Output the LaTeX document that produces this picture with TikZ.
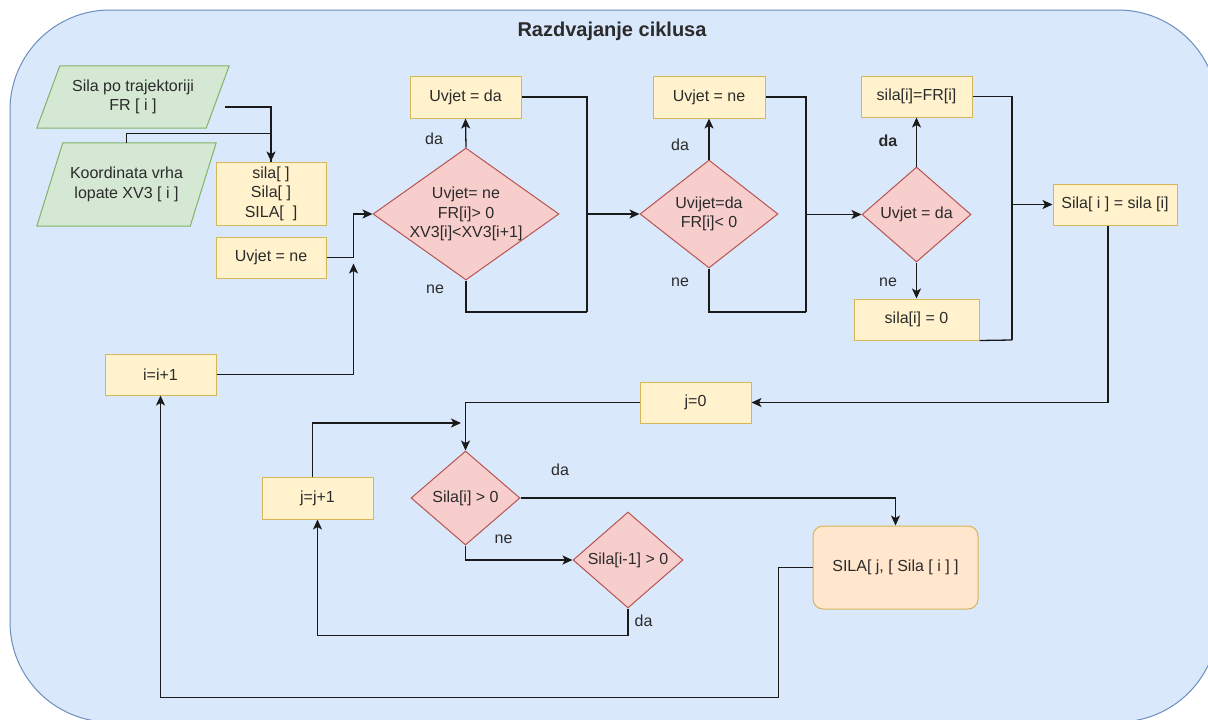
\documentclass[tikz,border=0pt]{standalone}
\usepackage{fontspec}
\setmainfont{Liberation Sans}
\usetikzlibrary{shapes.geometric,arrows.meta,backgrounds,calc}
\definecolor{bgfill}{HTML}{DAE8FC}
\definecolor{bgdraw}{HTML}{6C8EBF}
\definecolor{yfill}{HTML}{FFF2CC}
\definecolor{ydraw}{HTML}{D6B656}
\definecolor{gfill}{HTML}{D5E8D4}
\definecolor{gdraw}{HTML}{82B366}
\definecolor{rfill}{HTML}{F8CECC}
\definecolor{rdraw}{HTML}{B85450}
\definecolor{ofill}{HTML}{FFE6CC}
\definecolor{odraw}{HTML}{D6B656}
\definecolor{linec}{HTML}{1A1A1A}
\definecolor{txt}{HTML}{2B2B2B}
\begin{document}
\begin{tikzpicture}[x=1pt,y=-1pt,
  every node/.style={font=\fontsize{16}{19.5}\selectfont, text=txt},
  titlestyle/.style={font=\fontsize{20}{24}\selectfont\bfseries, inner sep=0pt},
  ybox/.style 2 args={rectangle, draw=ydraw, fill=yfill, line width=1pt, minimum width=#1, minimum height=#2, inner sep=0pt, align=center},
  obox/.style={rectangle, rounded corners=10pt, draw=odraw, fill=ofill, line width=1pt, minimum width=165pt, minimum height=83pt, inner sep=0pt, align=center},
  para/.style={rectangle, inner sep=0pt, align=center},
  pg/.style={draw=gdraw, fill=gfill, line width=1pt},
  dia/.style 2 args={diamond, draw=rdraw, fill=rfill, line width=1pt, minimum width=#1, minimum height=#2, inner sep=0pt},
  dlabel/.style={label={[align=center, inner sep=0pt]center:#1}},
  lab/.style={inner sep=0pt},
  ln/.style={draw=linec, line width=1.3pt},
  arr/.style={draw=linec, line width=1.3pt, -{Stealth[length=10pt,width=9pt,inset=2.5pt]}}
]
\useasboundingbox (0,0) rectangle (1208,720);
\begin{pgfonlayer}{background}
\draw[draw=bgdraw, fill=bgfill, line width=1pt, rounded corners=100pt] (10,10) rectangle (1218,722);
\end{pgfonlayer}

\node[titlestyle] (title) at (612,31) {Razdvajanje ciklusa};

% inputs
\node[para, minimum width=192pt, minimum height=62pt] (p1) at (133,97) {Sila po trajektoriji\\FR [ i ]};
\node[para, minimum width=179pt, minimum height=83pt] (p2) at (126.5,184.5) {Koordinata vrha\\lopate XV3 [ i ]};
\begin{pgfonlayer}{background}
\draw[pg] ([xshift=23pt]p1.north west) -- (p1.north east) -- ([xshift=-23pt]p1.south east) -- (p1.south west) -- cycle;
\draw[pg] ([xshift=26pt]p2.north west) -- (p2.north east) -- ([xshift=-26pt]p2.south east) -- (p2.south west) -- cycle;
\end{pgfonlayer}

% process boxes
\node[ybox={110pt}{63pt}] (b0) at (271,193.5) {sila[ ]\\Sila[ ]\\SILA[\ \ ]};
\node[ybox={110pt}{41pt}] (un1) at (271,257.5) {Uvjet = ne};
\node[ybox={111pt}{42pt}] (ud1) at (465.5,97) {Uvjet = da};
\node[ybox={112pt}{42pt}] (un2) at (709,97) {Uvjet = ne};
\node[ybox={111pt}{41pt}] (sfr) at (916.5,96.5) {sila[i]=FR[i]};
\node[ybox={125pt}{41pt}] (s0) at (916.5,319.5) {sila[i] = 0};
\node[ybox={124pt}{41pt}] (S1) at (1115,204.5) {Sila[ i ] = sila [i]};
\node[ybox={111pt}{41pt}] (j0) at (695.5,402.5) {j=0};
\node[ybox={111pt}{42pt}] (jj) at (317.5,498) {j=j+1};
\node[ybox={111pt}{41pt}] (ii) at (160.5,374.5) {i=i+1};
\node[obox] (SA) at (895.5,567.5) {SILA[ j, [ Sila [ i ] ]};

% decisions
\node[dia={186pt}{132pt}, dlabel={Uvjet= ne\\FR[i]> 0\\XV3[i]<XV3[i+1]}] (d1) at (466,214) {};
\node[dia={138pt}{108pt}, dlabel={Uvijet=da\\FR[i]< 0}] (d2) at (709,214) {};
\node[dia={109pt}{95pt}, dlabel={Uvjet = da}] (d3) at (916.5,214.5) {};
\node[dia={109pt}{94pt}, dlabel={Sila[i] > 0}] (d4) at (465.5,498) {};
\node[dia={110pt}{96pt}, dlabel={Sila[i-1] > 0}] (d5) at (628,560) {};

% branch labels
\node[lab] (l1) at (434,139) {da};
\node[lab] (l2) at (435,289) {ne};
\node[lab] (l3) at (680,145) {da};
\node[lab] (l4) at (680,282) {ne};
\node[lab, font=\fontsize{16}{19.5}\selectfont\bfseries] (l5) at (888,141) {da};
\node[lab] (l6) at (888,282) {ne};
\node[lab] (l7) at (560,470) {da};
\node[lab] (l8) at (503.5,539) {ne};
\node[lab] (l9) at (643.5,621) {da};

% connectors
\draw[arr] ([xshift=-4pt,yshift=-10pt]p1.east) -| (b0.north);
\draw[ln] (p2.north) -- ++(0,-9) -| (b0.north);
\coordinate (m1) at ($(un1.east)+(27,0)$);
\draw[arr] (un1.east) -- (m1) |- (d1.west);
\draw[arr] (ii.east) -| ([yshift=-6pt]m1);
\draw[arr] (d1.north) -- (ud1.south);
\coordinate (m2) at (587,312);
\draw[ln] (ud1.east) -| (m2);
\draw[ln] (d1.south) |- (m2);
\draw[arr] (m2 |- d2.west) -- (d2.west);
\draw[arr] (d2.north) -- (un2.south);
\coordinate (m3) at (806,312);
\draw[ln] (un2.east) -| (m3);
\draw[ln] (d2.south) |- (m3);
\draw[arr] (m3 |- d3.west) -- (d3.west);
\draw[arr] (d3.north) -- (sfr.south);
\draw[arr] (d3.south) -- (s0.north);
\coordinate (m4) at (1012,340);
\draw[ln] (sfr.east) -| (m4);
\draw[ln] (s0.south east) -- (m4);
\draw[arr] (m4 |- S1.west) -- (S1.west);
\draw[arr] ([xshift=-7pt]S1.south) |- (j0.east);
\draw[arr] (j0.west) -| (d4.north);
\coordinate (m5) at (461,423);
\draw[arr] ([xshift=-5pt]jj.north) |- (m5);
\draw[arr] (d4.east) -| (SA.north);
\draw[arr] (d4.south) |- (d5.west);
\draw[arr] (d5.south) -- ++(0,27) -| (jj.south);
\draw[arr] (SA.west) -- ++(-34,0) -- ++(0,130) -| (ii.south);
\end{tikzpicture}
\end{document}
